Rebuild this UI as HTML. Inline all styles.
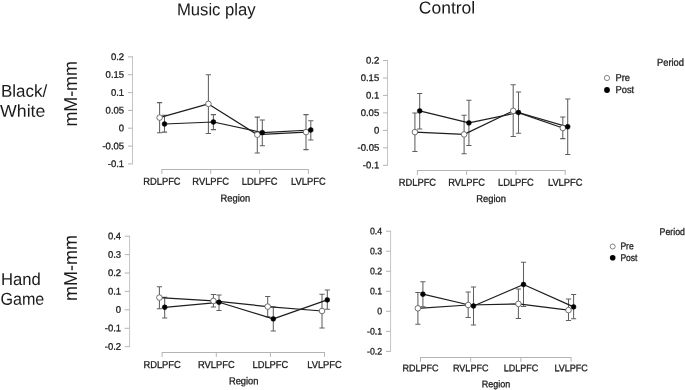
<!DOCTYPE html>
<html><head><meta charset="utf-8"><title>Figure</title>
<style>
html,body{margin:0;padding:0;background:#fff;}
body{width:685px;height:390px;overflow:hidden;}
svg{display:block;filter:blur(0.3px);}
text{font-family:"Liberation Sans", sans-serif;fill:#1c1c1c;}
.s{font-size:10.0px;stroke:#1c1c1c;stroke-width:0.3px;}
.ax{stroke:#b4b4b4;stroke-width:1;fill:none;}
.eb{stroke:#606060;stroke-width:1.05;fill:none;}
.ln{stroke:#1e1e1e;stroke-width:1.2;fill:none;stroke-linejoin:round;}
.po{fill:#fff;stroke:#505050;stroke-width:0.8;}
.pf{fill:#000;stroke:#000;stroke-width:0.5;}
.big{fill:#1a1a1a;}
</style></head><body>
<svg width="685" height="390" viewBox="0 0 685 390">
<rect x="0" y="0" width="685" height="390" fill="#ffffff"/>

<text class="big" transform="translate(176.9,15.2) rotate(0.03)" font-size="17" textLength="78.8" lengthAdjust="spacingAndGlyphs">Music play</text>
<text class="big" transform="translate(418.8,13.4) rotate(0.03)" font-size="17.2" textLength="56.4" lengthAdjust="spacingAndGlyphs">Control</text>
<text class="big" transform="translate(0.9,96.7) rotate(0.03)" font-size="17.2" textLength="46.2" lengthAdjust="spacingAndGlyphs">Black/</text>
<text class="big" transform="translate(0.1,116.7) rotate(0.03)" font-size="17.2" textLength="45.3" lengthAdjust="spacingAndGlyphs">White</text>
<text class="big" transform="translate(0.9,285) rotate(0.03)" font-size="17.2" textLength="39.8" lengthAdjust="spacingAndGlyphs">Hand</text>
<text class="big" transform="translate(0.4,304.7) rotate(0.03)" font-size="17.2" textLength="43.9" lengthAdjust="spacingAndGlyphs">Game</text>
<text class="big" transform="translate(76.9,126.6) rotate(-90.03)" font-size="18.6" textLength="65.5" lengthAdjust="spacingAndGlyphs">mM-mm</text>
<text class="big" transform="translate(76.9,301.1) rotate(-90.03)" font-size="18.6" textLength="66.0" lengthAdjust="spacingAndGlyphs">mM-mm</text>
<path class="ax" style="stroke:#c4c4c4" d="M132.5 56.4V164.4"/>
<path class="ax" d="M128.0 56.9H132.5M128.0 74.7H132.5M128.0 92.6H132.5M128.0 110.4H132.5M128.0 128.2H132.5M128.0 146.1H132.5M128.0 163.9H132.5M161.9 169.5H308.4M161.9 169.0v4.9M210.7 169.0v4.9M259.6 169.0v4.9M308.4 169.0v4.9"/>
<text class="s" style="font-size:9.6px" transform="translate(124.1,59.95) rotate(0.03) scale(0.99,1)" text-anchor="end">0.2</text>
<text class="s" style="font-size:9.6px" transform="translate(124.1,77.75) rotate(0.03) scale(0.99,1)" text-anchor="end">0.15</text>
<text class="s" style="font-size:9.6px" transform="translate(124.1,95.65) rotate(0.03) scale(0.99,1)" text-anchor="end">0.1</text>
<text class="s" style="font-size:9.6px" transform="translate(124.1,113.45) rotate(0.03) scale(0.99,1)" text-anchor="end">0.05</text>
<text class="s" style="font-size:9.6px" transform="translate(124.1,131.25) rotate(0.03) scale(0.99,1)" text-anchor="end">0</text>
<text class="s" style="font-size:9.6px" transform="translate(124.1,149.15) rotate(0.03) scale(0.99,1)" text-anchor="end">-0.05</text>
<text class="s" style="font-size:9.6px" transform="translate(124.1,166.95) rotate(0.03) scale(0.99,1)" text-anchor="end">-0.1</text>
<text class="s" transform="translate(161.9,184.7) rotate(0.03) scale(0.935,1)" text-anchor="middle">RDLPFC</text>
<text class="s" transform="translate(210.7,184.7) rotate(0.03) scale(0.935,1)" text-anchor="middle">RVLPFC</text>
<text class="s" transform="translate(259.6,184.7) rotate(0.03) scale(0.935,1)" text-anchor="middle">LDLPFC</text>
<text class="s" transform="translate(308.4,184.7) rotate(0.03) scale(0.935,1)" text-anchor="middle">LVLPFC</text>
<text class="s" transform="translate(235.3,201.4) rotate(0.03) scale(0.935,1)" text-anchor="middle">Region</text>
<g transform="translate(0,0.3)">
<path class="eb" d="M159.6 102.3V132.5M157.0 102.3h5.2M157.0 132.5h5.2M208.4 74.5V133.2M205.8 74.5h5.2M205.8 133.2h5.2M257.3 116.8V152.7M254.7 116.8h5.2M254.7 152.7h5.2M306.0 114.3V149.3M303.4 114.3h5.2M303.4 149.3h5.2M164.5 115.0V131.8M161.9 115.0h5.2M161.9 131.8h5.2M213.4 114.3V129.3M210.8 114.3h5.2M210.8 129.3h5.2M262.3 119.6V145.5M259.7 119.6h5.2M259.7 145.5h5.2M310.8 120.5V139.7M308.2 120.5h5.2M308.2 139.7h5.2"/>
<polyline class="ln" points="159.6,117.3 208.4,103.6 257.3,134.4 306.0,131.8"/>
<polyline class="ln" points="164.5,123.7 213.4,121.7 262.3,132.3 310.8,129.7"/>
<circle class="po" cx="159.6" cy="117.3" r="2.8"/>
<circle class="po" cx="208.4" cy="103.6" r="2.8"/>
<circle class="po" cx="257.3" cy="134.4" r="2.8"/>
<circle class="po" cx="306.0" cy="131.8" r="2.8"/>
<circle class="pf" cx="164.5" cy="123.7" r="2.45"/>
<circle class="pf" cx="213.4" cy="121.7" r="2.45"/>
<circle class="pf" cx="262.3" cy="132.3" r="2.45"/>
<circle class="pf" cx="310.8" cy="129.7" r="2.45"/>
</g>
<path class="ax" style="stroke:#c4c4c4" d="M387.5 60.0V165.8"/>
<path class="ax" d="M383.0 60.5H387.5M383.0 78.0H387.5M383.0 95.4H387.5M383.0 112.9H387.5M383.0 130.4H387.5M383.0 147.8H387.5M383.0 165.3H387.5M417.4 170.5H565.2M417.4 170.0v4.9M466.6 170.0v4.9M515.9 170.0v4.9M565.2 170.0v4.9"/>
<text class="s" style="font-size:9.6px" transform="translate(379.2,63.55) rotate(0.03) scale(0.99,1)" text-anchor="end">0.2</text>
<text class="s" style="font-size:9.6px" transform="translate(379.2,81.05) rotate(0.03) scale(0.99,1)" text-anchor="end">0.15</text>
<text class="s" style="font-size:9.6px" transform="translate(379.2,98.45) rotate(0.03) scale(0.99,1)" text-anchor="end">0.1</text>
<text class="s" style="font-size:9.6px" transform="translate(379.2,115.95) rotate(0.03) scale(0.99,1)" text-anchor="end">0.05</text>
<text class="s" style="font-size:9.6px" transform="translate(379.2,133.45) rotate(0.03) scale(0.99,1)" text-anchor="end">0</text>
<text class="s" style="font-size:9.6px" transform="translate(379.2,150.85) rotate(0.03) scale(0.99,1)" text-anchor="end">-0.05</text>
<text class="s" style="font-size:9.6px" transform="translate(379.2,168.35) rotate(0.03) scale(0.99,1)" text-anchor="end">-0.1</text>
<text class="s" transform="translate(417.4,185.8) rotate(0.03) scale(0.935,1)" text-anchor="middle">RDLPFC</text>
<text class="s" transform="translate(466.6,185.8) rotate(0.03) scale(0.935,1)" text-anchor="middle">RVLPFC</text>
<text class="s" transform="translate(515.9,185.8) rotate(0.03) scale(0.935,1)" text-anchor="middle">LDLPFC</text>
<text class="s" transform="translate(565.2,185.8) rotate(0.03) scale(0.935,1)" text-anchor="middle">LVLPFC</text>
<text class="s" transform="translate(491.1,201.9) rotate(0.03) scale(0.935,1)" text-anchor="middle">Region</text>
<g transform="translate(0,0.3)">
<path class="eb" d="M414.9 112.6V151.2M412.3 112.6h5.2M412.3 151.2h5.2M464.1 115.0V153.5M461.5 115.0h5.2M461.5 153.5h5.2M513.2 84.5V136.2M510.6 84.5h5.2M510.6 136.2h5.2M562.8 116.6V138.3M560.2 116.6h5.2M560.2 138.3h5.2M419.7 93.2V128.6M417.1 93.2h5.2M417.1 128.6h5.2M468.9 99.9V145.2M466.3 99.9h5.2M466.3 145.2h5.2M518.5 91.6V133.0M515.9 91.6h5.2M515.9 133.0h5.2M567.7 98.6V154.2M565.1 98.6h5.2M565.1 154.2h5.2"/>
<polyline class="ln" points="414.9,131.8 464.1,134.1 513.2,110.6 562.8,127.7"/>
<polyline class="ln" points="419.7,110.6 468.9,122.6 518.5,112.2 567.7,126.5"/>
<circle class="po" cx="414.9" cy="131.8" r="2.8"/>
<circle class="po" cx="464.1" cy="134.1" r="2.8"/>
<circle class="po" cx="513.2" cy="110.6" r="2.8"/>
<circle class="po" cx="562.8" cy="127.7" r="2.8"/>
<circle class="pf" cx="419.7" cy="110.6" r="2.45"/>
<circle class="pf" cx="468.9" cy="122.6" r="2.45"/>
<circle class="pf" cx="518.5" cy="112.2" r="2.45"/>
<circle class="pf" cx="567.7" cy="126.5" r="2.45"/>
</g>
<path class="ax" style="stroke:#c4c4c4" d="M129.6 235.7V347.2"/>
<path class="ax" d="M124.7 236.2H129.6M124.7 254.6H129.6M124.7 273.0H129.6M124.7 291.4H129.6M124.7 309.8H129.6M124.7 328.3H129.6M124.7 346.7H129.6M162.1 352.5H324.5M162.1 352.0v4.9M216.3 352.0v4.9M270.4 352.0v4.9M324.5 352.0v4.9"/>
<text class="s" style="font-size:9.6px" transform="translate(121.1,239.25) rotate(0.03) scale(0.99,1)" text-anchor="end">0.4</text>
<text class="s" style="font-size:9.6px" transform="translate(121.1,257.65) rotate(0.03) scale(0.99,1)" text-anchor="end">0.3</text>
<text class="s" style="font-size:9.6px" transform="translate(121.1,276.05) rotate(0.03) scale(0.99,1)" text-anchor="end">0.2</text>
<text class="s" style="font-size:9.6px" transform="translate(121.1,294.45) rotate(0.03) scale(0.99,1)" text-anchor="end">0.1</text>
<text class="s" style="font-size:9.6px" transform="translate(121.1,312.85) rotate(0.03) scale(0.99,1)" text-anchor="end">0</text>
<text class="s" style="font-size:9.6px" transform="translate(121.1,331.35) rotate(0.03) scale(0.99,1)" text-anchor="end">-0.1</text>
<text class="s" style="font-size:9.6px" transform="translate(121.1,349.75) rotate(0.03) scale(0.99,1)" text-anchor="end">-0.2</text>
<text class="s" transform="translate(162.1,367.9) rotate(0.03) scale(0.935,1)" text-anchor="middle">RDLPFC</text>
<text class="s" transform="translate(216.3,367.9) rotate(0.03) scale(0.935,1)" text-anchor="middle">RVLPFC</text>
<text class="s" transform="translate(270.4,367.9) rotate(0.03) scale(0.935,1)" text-anchor="middle">LDLPFC</text>
<text class="s" transform="translate(324.5,367.9) rotate(0.03) scale(0.935,1)" text-anchor="middle">LVLPFC</text>
<text class="s" transform="translate(243.7,384.2) rotate(0.03) scale(0.935,1)" text-anchor="middle">Region</text>
<g transform="translate(0,0.3)">
<path class="eb" d="M159.4 286.5V308.4M156.8 286.5h5.2M156.8 308.4h5.2M213.4 294.3V306.8M210.8 294.3h5.2M210.8 306.8h5.2M267.7 296.2V316.4M265.1 296.2h5.2M265.1 316.4h5.2M322.0 293.9V327.6M319.4 293.9h5.2M319.4 327.6h5.2M164.7 296.9V317.7M162.1 296.9h5.2M162.1 317.7h5.2M219.0 294.6V310.3M216.4 294.6h5.2M216.4 310.3h5.2M273.3 306.6V330.6M270.7 306.6h5.2M270.7 330.6h5.2M327.3 289.7V308.9M324.7 289.7h5.2M324.7 308.9h5.2"/>
<polyline class="ln" points="159.4,297.3 213.4,300.6 267.7,306.3 322.0,310.7"/>
<polyline class="ln" points="164.7,307.0 219.0,302.0 273.3,318.6 327.3,299.6"/>
<circle class="po" cx="159.4" cy="297.3" r="2.8"/>
<circle class="po" cx="213.4" cy="300.6" r="2.8"/>
<circle class="po" cx="267.7" cy="306.3" r="2.8"/>
<circle class="po" cx="322.0" cy="310.7" r="2.8"/>
<circle class="pf" cx="164.7" cy="307.0" r="2.45"/>
<circle class="pf" cx="219.0" cy="302.0" r="2.45"/>
<circle class="pf" cx="273.3" cy="318.6" r="2.45"/>
<circle class="pf" cx="327.3" cy="299.6" r="2.45"/>
</g>
<path class="ax" style="stroke:#c4c4c4" d="M390.6 230.7V351.9"/>
<path class="ax" d="M386.0 231.2H390.6M386.0 251.2H390.6M386.0 271.3H390.6M386.0 291.3H390.6M386.0 311.3H390.6M386.0 331.4H390.6M386.0 351.4H390.6M420.5 357.5H571.1M420.5 357.0v4.9M470.7 357.0v4.9M520.9 357.0v4.9M571.1 357.0v4.9"/>
<text class="s" style="font-size:9.4px" transform="translate(382.1,234.25) rotate(0.03) scale(0.93,1)" text-anchor="end">0.4</text>
<text class="s" style="font-size:9.4px" transform="translate(382.1,254.25) rotate(0.03) scale(0.93,1)" text-anchor="end">0.3</text>
<text class="s" style="font-size:9.4px" transform="translate(382.1,274.35) rotate(0.03) scale(0.93,1)" text-anchor="end">0.2</text>
<text class="s" style="font-size:9.4px" transform="translate(382.1,294.35) rotate(0.03) scale(0.93,1)" text-anchor="end">0.1</text>
<text class="s" style="font-size:9.4px" transform="translate(382.1,314.35) rotate(0.03) scale(0.93,1)" text-anchor="end">0</text>
<text class="s" style="font-size:9.4px" transform="translate(382.1,334.45) rotate(0.03) scale(0.93,1)" text-anchor="end">-0.1</text>
<text class="s" style="font-size:9.4px" transform="translate(382.1,354.45) rotate(0.03) scale(0.93,1)" text-anchor="end">-0.2</text>
<text class="s" style="font-size:9.6px" transform="translate(420.5,371.3) rotate(0.03) scale(0.94,1)" text-anchor="middle">RDLPFC</text>
<text class="s" style="font-size:9.6px" transform="translate(470.7,371.3) rotate(0.03) scale(0.94,1)" text-anchor="middle">RVLPFC</text>
<text class="s" style="font-size:9.6px" transform="translate(520.9,371.3) rotate(0.03) scale(0.94,1)" text-anchor="middle">LDLPFC</text>
<text class="s" style="font-size:9.6px" transform="translate(571.1,371.3) rotate(0.03) scale(0.94,1)" text-anchor="middle">LVLPFC</text>
<text class="s" style="font-size:9.6px" transform="translate(495.9,387.3) rotate(0.03) scale(0.94,1)" text-anchor="middle">Region</text>
<g transform="translate(0,0.3)">
<path class="eb" d="M417.9 292.3V323.9M415.3 292.3h5.2M415.3 323.9h5.2M468.2 291.8V317.2M465.6 291.8h5.2M465.6 317.2h5.2M518.4 288.6V318.1M515.8 288.6h5.2M515.8 318.1h5.2M568.5 298.7V320.2M565.9 298.7h5.2M565.9 320.2h5.2M422.9 281.4V306.4M420.3 281.4h5.2M420.3 306.4h5.2M473.5 286.7V324.6M470.9 286.7h5.2M470.9 324.6h5.2M523.5 262.0V306.1M520.9 262.0h5.2M520.9 306.1h5.2M573.6 294.3V318.4M571.0 294.3h5.2M571.0 318.4h5.2"/>
<polyline class="ln" points="417.9,308.0 468.2,304.7 518.4,303.6 568.5,309.8"/>
<polyline class="ln" points="422.9,293.9 473.5,305.7 523.5,284.2 573.6,306.6"/>
<circle class="po" cx="417.9" cy="308.0" r="2.8"/>
<circle class="po" cx="468.2" cy="304.7" r="2.8"/>
<circle class="po" cx="518.4" cy="303.6" r="2.8"/>
<circle class="po" cx="568.5" cy="309.8" r="2.8"/>
<circle class="pf" cx="422.9" cy="293.9" r="2.45"/>
<circle class="pf" cx="473.5" cy="305.7" r="2.45"/>
<circle class="pf" cx="523.5" cy="284.2" r="2.45"/>
<circle class="pf" cx="573.6" cy="306.6" r="2.45"/>
</g>
<text class="s" transform="translate(657,65.8) rotate(0.03) scale(0.935,1)" text-anchor="start">Period</text>
<circle cx="607" cy="78" r="2.6" fill="#fff" stroke="#666" stroke-width="0.8"/>
<circle cx="607" cy="90" r="2.9" fill="#000"/>
<text class="s" transform="translate(615.5,80.9) rotate(0.03) scale(0.935,1)" text-anchor="start">Pre</text>
<text class="s" transform="translate(615.5,93.1) rotate(0.03) scale(0.935,1)" text-anchor="start">Post</text>
<text class="s" style="font-size:9.7px" transform="translate(659.6,235.1) rotate(0.03) scale(0.905,1)" text-anchor="start">Period</text>
<circle cx="612.7" cy="246.5" r="2.5" fill="#fff" stroke="#666" stroke-width="0.8"/>
<circle cx="612.7" cy="257.7" r="2.8" fill="#000"/>
<text class="s" style="font-size:9.7px" transform="translate(620.4,249.2) rotate(0.03) scale(0.88,1)" text-anchor="start">Pre</text>
<text class="s" style="font-size:9.7px" transform="translate(620.4,260.9) rotate(0.03) scale(0.88,1)" text-anchor="start">Post</text>
</svg>
</body></html>
